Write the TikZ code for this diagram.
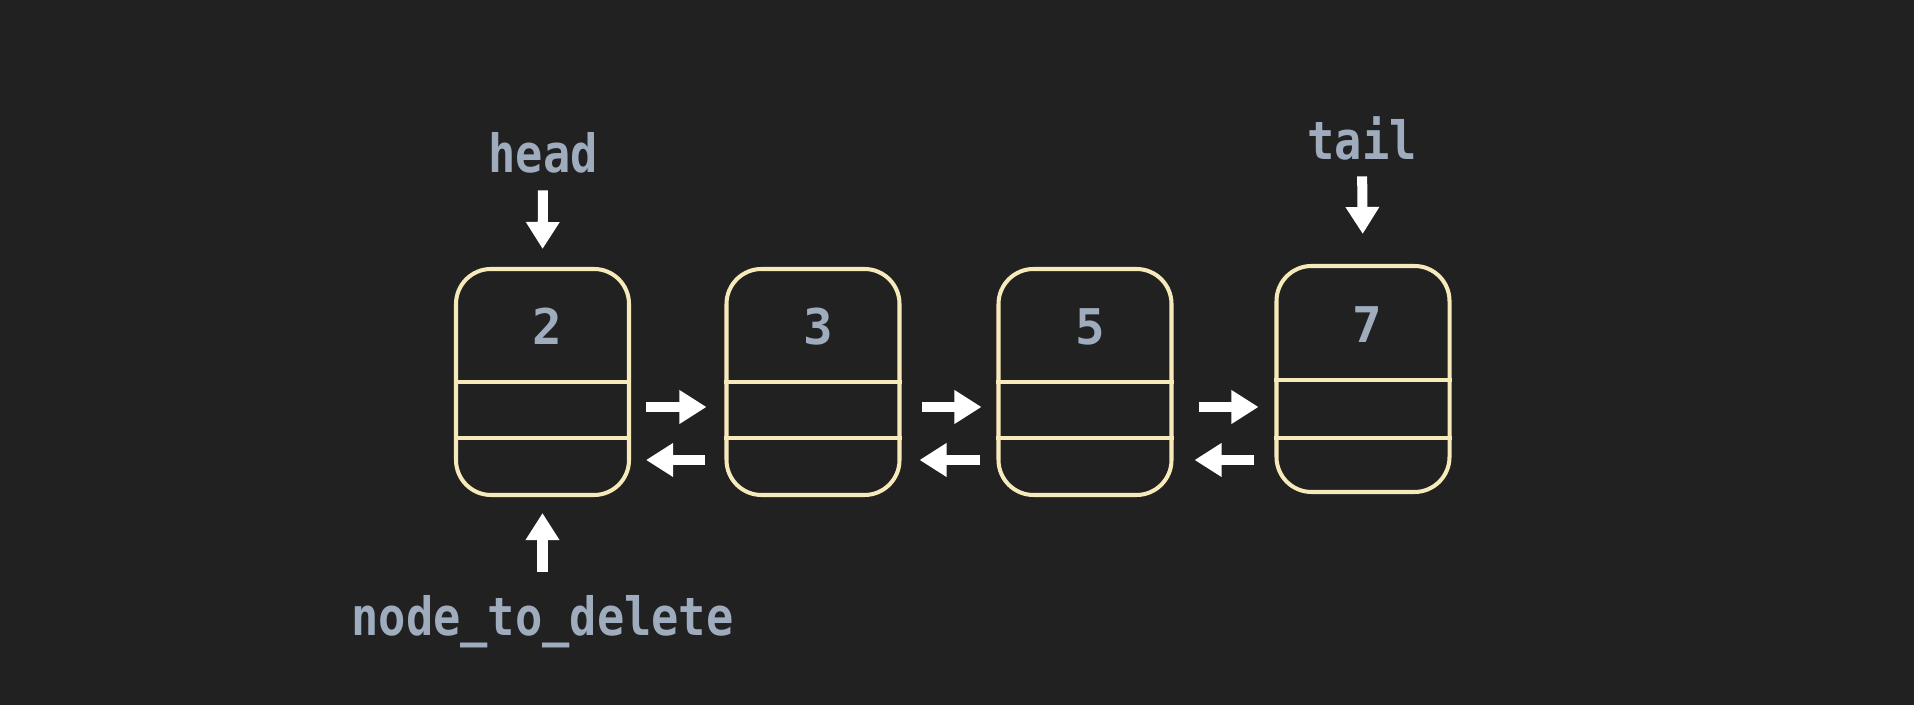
\documentclass[tikz,border=0pt]{standalone}
\usepackage{fontspec}
\setmonofont[FakeStretch=0.86]{DejaVu Sans Mono}
\newfontfamily\cellfont{DejaVu Sans Mono}
\usetikzlibrary{arrows.meta}
\definecolor{ll_bg}{RGB}{33, 33, 33}
\definecolor{ll_box}{RGB}{247, 234, 186}
\definecolor{ll_text}{RGB}{158, 172, 190}
\tikzstyle{cell}=[rectangle,rounded corners=0.35cm,draw=ll_box,
  line width=1.15pt,inner sep=0pt,minimum width=1.73cm,minimum height=2.26cm]
\tikzstyle{sep}=[draw=ll_box,line width=1.15pt]
\tikzstyle{val}=[text=ll_text,inner sep=0pt,anchor=base,
  font=\cellfont\bfseries\fontsize{14pt}{16pt}\selectfont]
\tikzstyle{lbl}=[style=val,font=\ttfamily\bfseries\fontsize{15pt}{17pt}\selectfont]
\tikzstyle{ptr}=[draw=white,line width=2.85pt,
  -{Triangle[width=0.32cm,length=0.27cm]}]
\tikzstyle{none}=[]

\begin{document}
\begin{tikzpicture}
        \fill [ll_bg] (0, 0) rectangle (19.14, 7.05);
        \useasboundingbox (0, 0) rectangle (19.14, 7.05);
        \node [style=cell] (0) at (5.425, 3.23) {};
        \node [style=cell] (1) at (8.13, 3.23) {};
        \node [style=cell] (2) at (10.85, 3.23) {};
        \node [style=cell] (3) at (13.63, 3.26) {};
        \node [style=val] (4) at (5.475, 3.60) {2};
        \node [style=val] (5) at (8.18, 3.60) {3};
        \node [style=val] (6) at (10.90, 3.60) {5};
        \node [style=val] (7) at (13.67, 3.62) {7};
        \node [style=lbl] (8) at (5.43, 5.32) {head};
        \node [style=lbl] (9) at (13.62, 5.45) {tail};
        \node [style=lbl] (10) at (5.425, 0.69) {node\_to\_delete};
        \draw [style=sep] (0.west) to (0.east);
        \draw [style=sep] ([yshift=-0.56cm]0.west) to ([yshift=-0.56cm]0.east);
        \draw [style=sep] (1.west) to (1.east);
        \draw [style=sep] ([yshift=-0.56cm]1.west) to ([yshift=-0.56cm]1.east);
        \draw [style=sep] (2.west) to (2.east);
        \draw [style=sep] ([yshift=-0.56cm]2.west) to ([yshift=-0.56cm]2.east);
        \draw [style=sep] ([yshift=-0.01cm]3.west) to ([yshift=-0.01cm]3.east);
        \draw [style=sep] ([yshift=-0.59cm]3.west) to ([yshift=-0.59cm]3.east);
        \draw [style=ptr, shorten <=0.15cm, shorten >=0.18cm] ([yshift=-0.25cm]0.east) to ([yshift=-0.25cm]1.west);
        \draw [style=ptr, shorten <=0.19cm, shorten >=0.15cm] ([yshift=-0.78cm]1.west) to ([yshift=-0.78cm]0.east);
        \draw [style=ptr, shorten <=0.20cm, shorten >=0.15cm] ([yshift=-0.25cm]1.east) to ([yshift=-0.25cm]2.west);
        \draw [style=ptr, shorten <=0.16cm, shorten >=0.18cm] ([yshift=-0.78cm]2.west) to ([yshift=-0.78cm]1.east);
        \draw [style=ptr, shorten <=0.25cm, shorten >=0.16cm] ([yshift=-0.25cm]2.east) to ([yshift=-0.25cm]2.east -| 3.west);
        \draw [style=ptr, shorten <=0.20cm, shorten >=0.21cm] ([yshift=-0.78cm]2.east -| 3.west) to ([yshift=-0.78cm]2.east);
        \draw [style=ptr, shorten <=0.16cm, shorten >=0.18cm] (8.south) to (0.north);
        \draw [style=ptr, shorten <=0.15cm, shorten >=0.30cm] (9.south) to (3.north);
        \draw [style=ptr, shorten <=0.23cm, shorten >=0.16cm] (10.north) to (0.south);
    \end{tikzpicture}
\end{document}
